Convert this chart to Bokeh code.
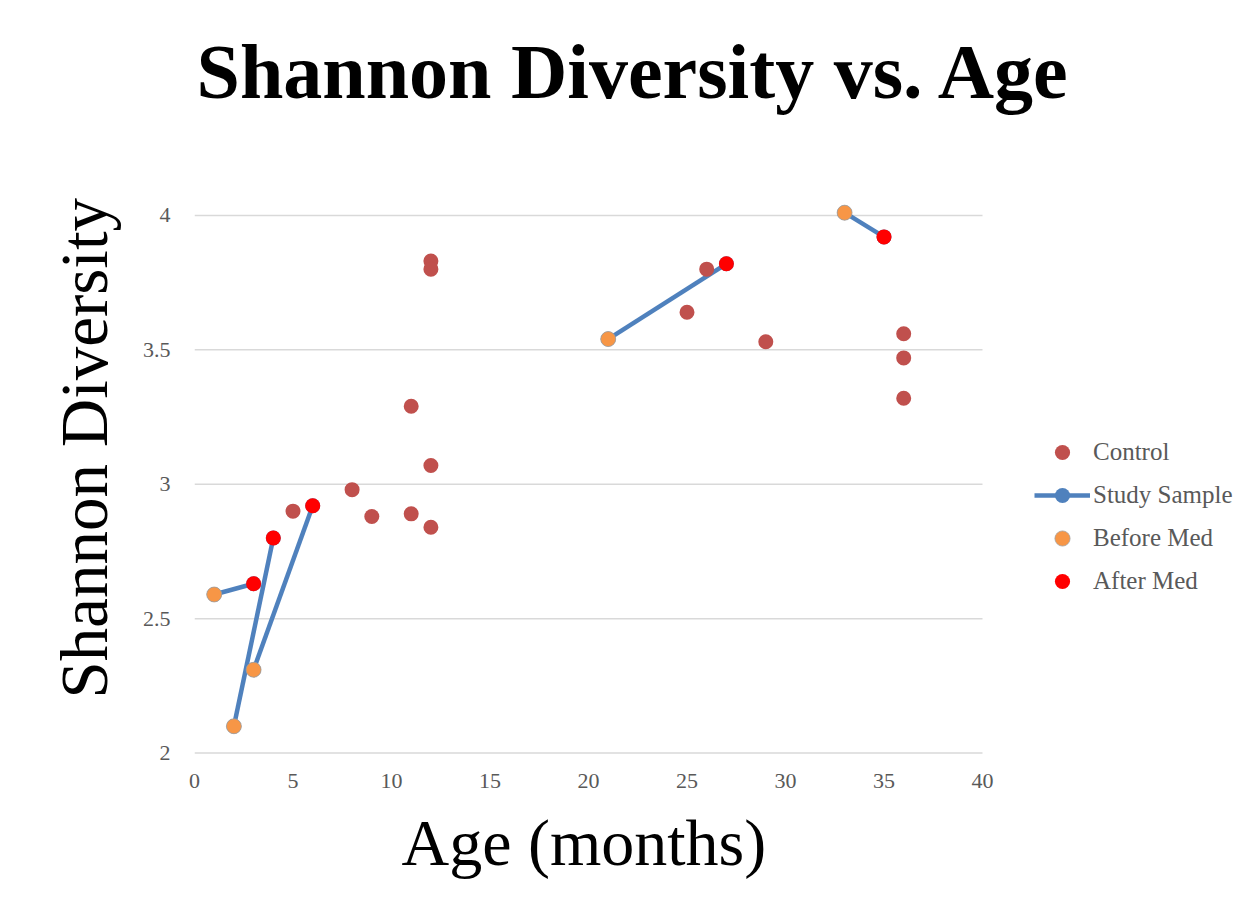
from bokeh.plotting import figure
from bokeh.models import Range1d, FixedTicker, Legend, LegendItem, Title
from bokeh.embed import file_html
from bokeh.resources import INLINE

# ---- data ----
control_age = [5, 8, 9, 11, 11, 12, 12, 12, 12, 25, 26, 29, 36, 36, 36]
control_div = [2.90, 2.98, 2.88, 2.89, 3.29, 3.07, 2.84, 3.83, 3.80, 3.64, 3.80, 3.53, 3.56, 3.47, 3.32]

before_age = [1, 2, 3, 21, 33]
before_div = [2.59, 2.10, 2.31, 3.54, 4.01]
after_age = [3, 4, 6, 27, 35]
after_div = [2.63, 2.80, 2.92, 3.82, 3.92]

x_ticks = [0, 5, 10, 15, 20, 25, 30, 35, 40]
y_ticks = [2, 2.5, 3, 3.5, 4]

SERIF = "Liberation Serif"
GRAY = "#595959"

W, H = 1246, 899
LEFT, PLOT_RIGHT = 194, 982           # pixel positions of x=0 and x=40
x_end = x_ticks[-1] * (W - LEFT) / (PLOT_RIGHT - LEFT)  # frame extends to make room for the legend

p = figure(width=W, height=H, output_backend="svg", toolbar_location=None,
           x_range=Range1d(x_ticks[0], x_end), y_range=Range1d(1.98, 4.1),
           min_border_left=LEFT, min_border_right=0, min_border_top=188, min_border_bottom=141)
p.outline_line_color = None
p.background_fill_color = "white"
p.border_fill_color = "white"

# spacer (closest to frame) then main title above it
spacer = Title(text=" ", text_font_size="1px", standoff=66)
p.add_layout(spacer, "above")
main_title = Title(text="Shannon Diversity vs. Age", text_font=SERIF, text_font_size="78px",
                   text_font_style="bold", text_color="black", align="left", offset=2, standoff=10)
p.add_layout(main_title, "above")

# grid (only over the data area 0..40)
p.xgrid.visible = False
p.ygrid.visible = False
p.segment(x0=[x_ticks[0]] * len(y_ticks), x1=[x_ticks[-1]] * len(y_ticks), y0=y_ticks, y1=y_ticks,
          line_color="#D9D9D9", line_width=1.5)

# axes
p.xaxis.ticker = FixedTicker(ticks=x_ticks)
p.yaxis.ticker = FixedTicker(ticks=y_ticks)
for ax in (p.xaxis[0], p.yaxis[0]):
    ax.axis_line_color = None
    ax.major_tick_line_color = None
    ax.minor_tick_line_color = None
    ax.major_tick_out = 0
    ax.major_tick_in = 0
    ax.major_label_text_font = SERIF
    ax.major_label_text_font_size = "22px"
    ax.major_label_text_color = GRAY
p.xaxis.major_label_standoff = 15
p.yaxis.major_label_standoff = 24

# axis titles as side titles (so they can be placed over the 0..40 data area)
x_title = Title(text="Age (months)", text_font=SERIF, text_font_size="66px",
                text_font_style="normal", text_color="black", align="left", offset=207,
                vertical_align="top", standoff=30)
p.add_layout(x_title, "below")
y_title = Title(text="Shannon Diversity", text_font=SERIF, text_font_size="67px",
                text_font_style="normal", text_color="black", align="left", offset=60, standoff=38)
p.add_layout(y_title, "left")

# study sample lines + markers (markers covered by before/after markers)
xs = [[b, a] for b, a in zip(before_age, after_age)]
ys = [[b, a] for b, a in zip(before_div, after_div)]
lines = p.multi_line(xs=xs, ys=ys, line_color="#4F81BD", line_width=4.5)
study_marker = p.scatter(x=before_age + after_age, y=before_div + after_div, size=15,
                         fill_color="#4F81BD", line_color=None)

ctrl = p.scatter(control_age, control_div, size=15, fill_color="#C0504D", line_color=None)
bef = p.scatter(before_age, before_div, size=15, fill_color="#F79646", line_color="#A0A0A0", line_width=0.75)
aft = p.scatter(after_age, after_div, size=15, fill_color="#FF0000", line_color=None)

legend = Legend(items=[
    LegendItem(label="Control", renderers=[ctrl]),
    LegendItem(label="Study Sample", renderers=[lines, study_marker]),
    LegendItem(label="Before Med", renderers=[bef]),
    LegendItem(label="After Med", renderers=[aft]),
], location=(840, 158))
legend.border_line_color = None
legend.background_fill_alpha = 0
legend.padding = 0
legend.margin = 0
legend.glyph_width = 56
legend.glyph_height = 38
legend.label_height = 38
legend.spacing = 5
legend.label_standoff = 3
legend.label_text_font = SERIF
legend.label_text_font_size = "25px"
legend.label_text_color = GRAY
legend.label_text_baseline = "middle"
p.add_layout(legend, "center")

open("out.html", "w").write(file_html(p, INLINE))
